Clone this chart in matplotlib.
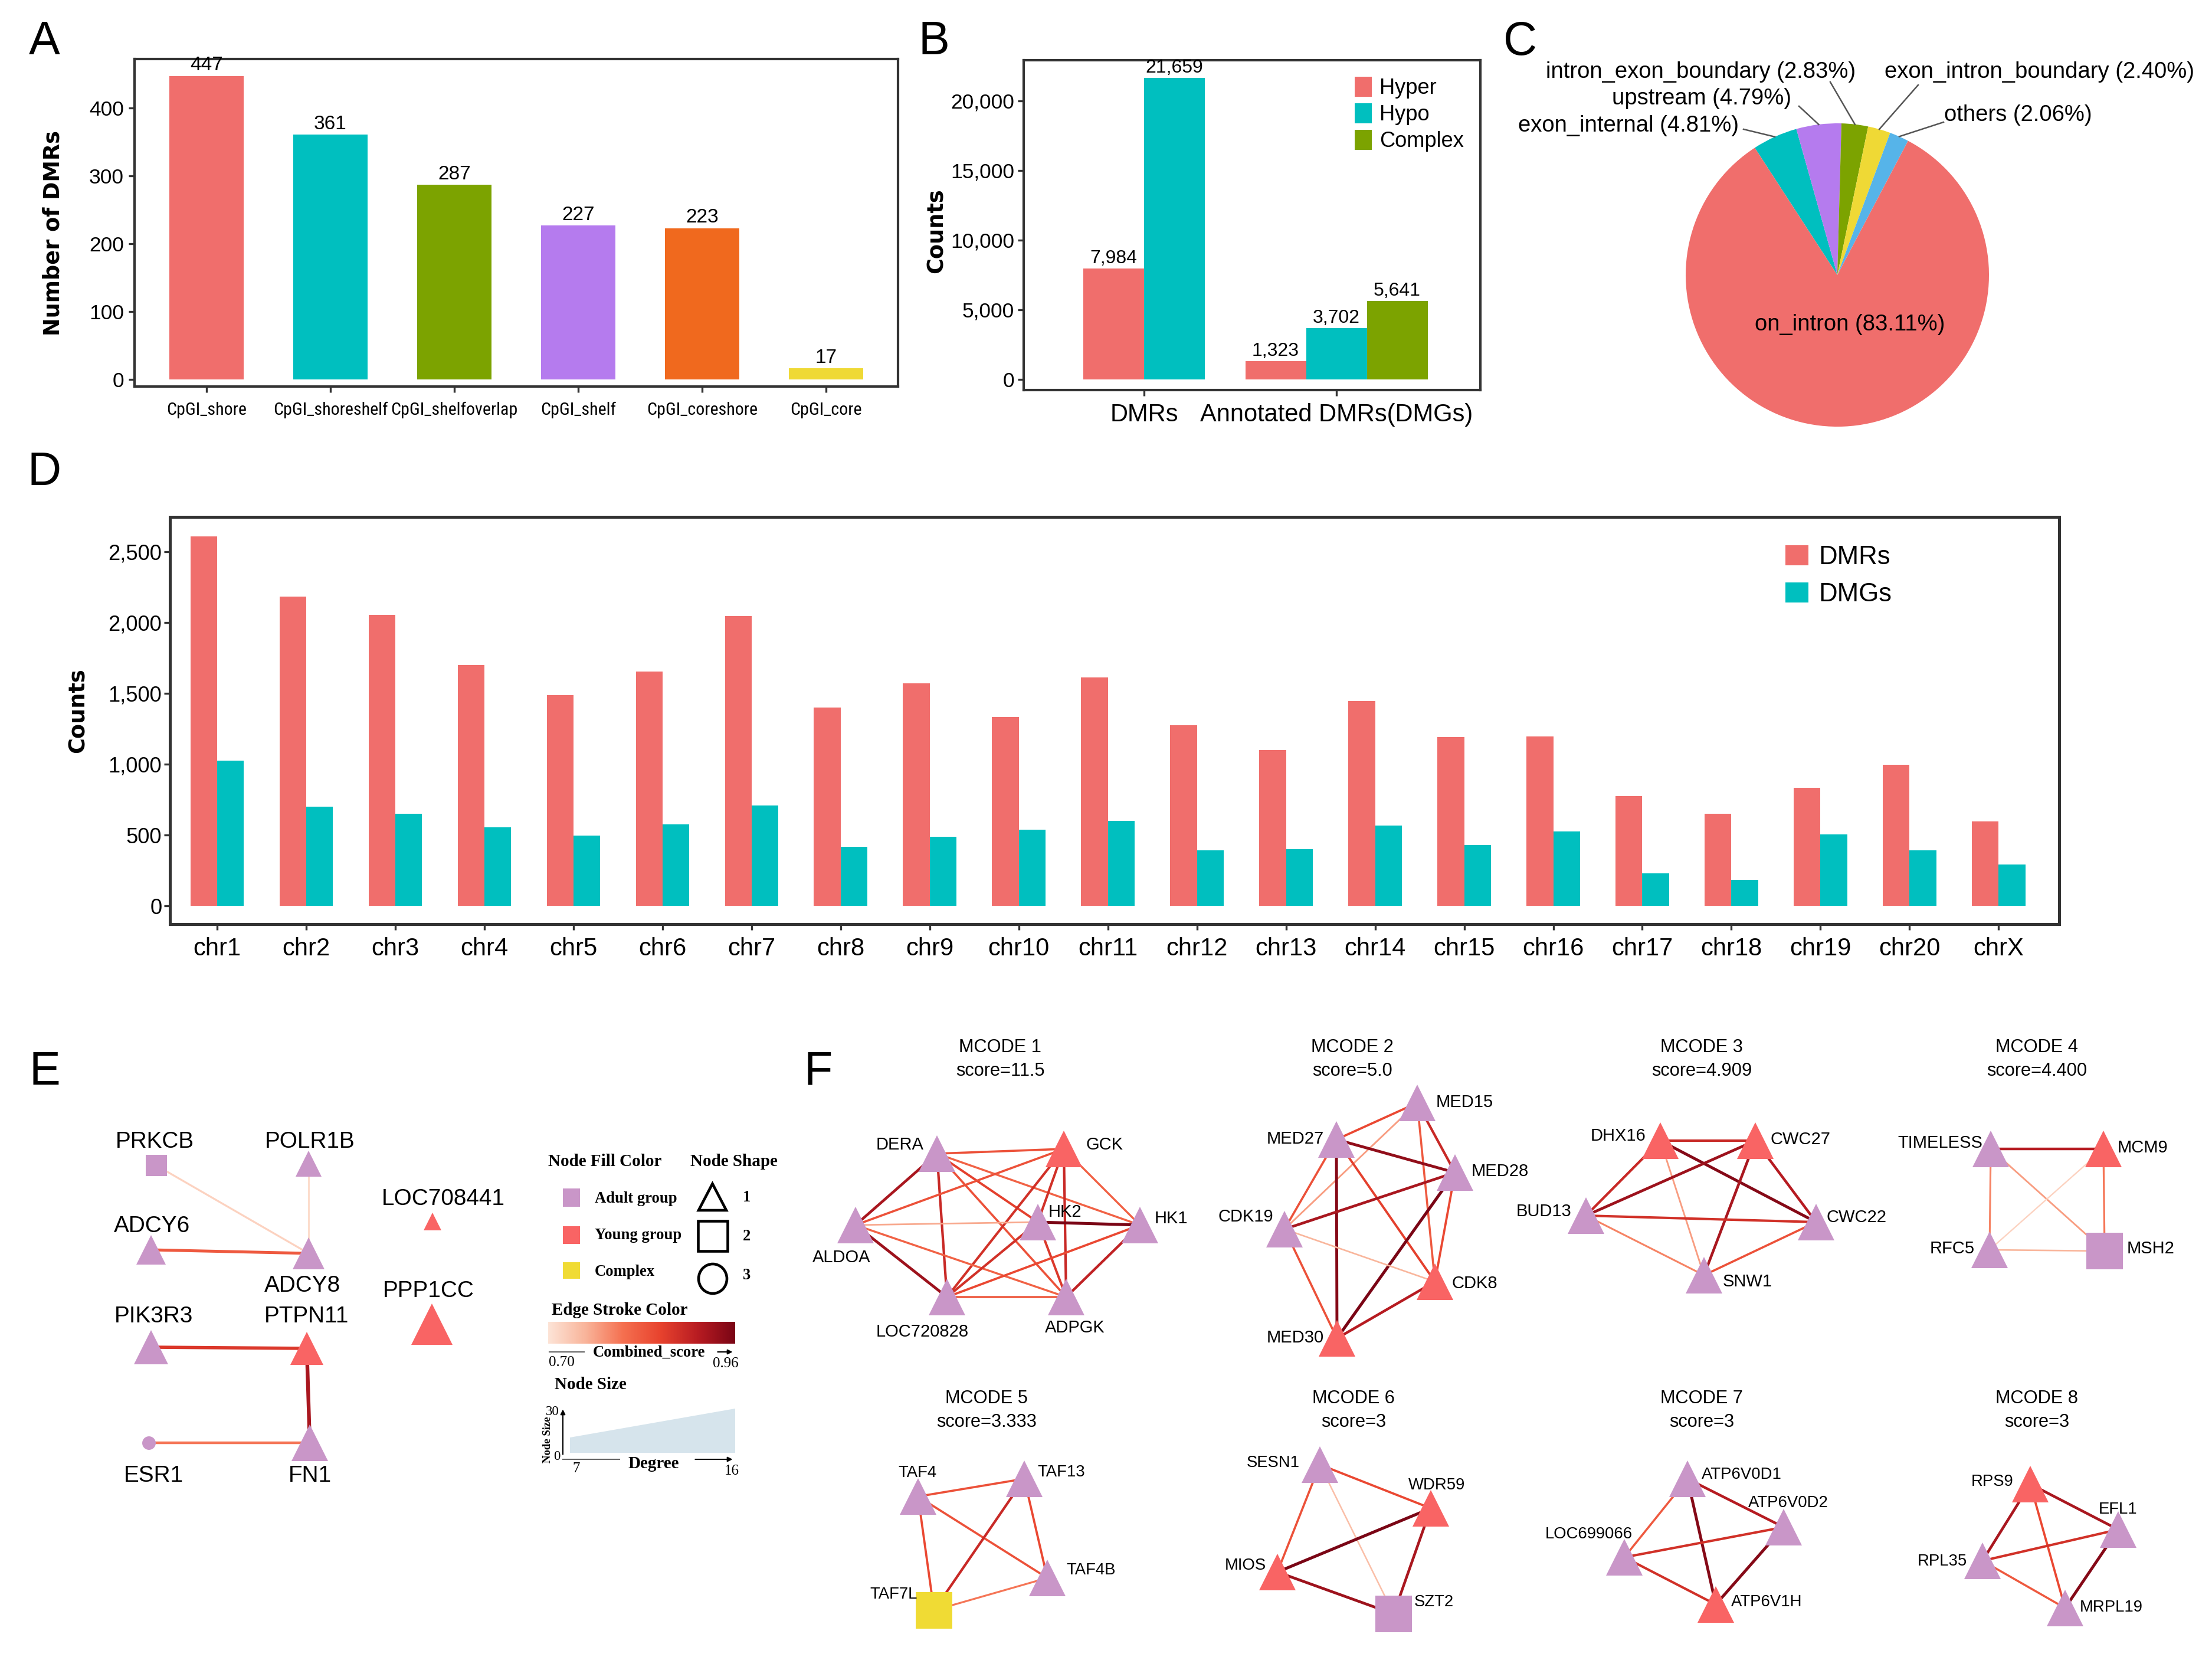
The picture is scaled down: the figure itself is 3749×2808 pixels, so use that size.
import numpy as np
import matplotlib
matplotlib.use('Agg')
import matplotlib.pyplot as plt
from matplotlib import font_manager
from matplotlib.patches import Patch, Polygon, Rectangle, Ellipse
from matplotlib.colors import LinearSegmentedColormap, Normalize
from matplotlib.ticker import FuncFormatter

W, H, DPI = 3749, 2808, 300
plt.rcParams['font.family'] = ['Liberation Sans', 'DejaVu Sans']
SERIF = ['Liberation Serif', 'DejaVu Serif']
BOLDLAB = ['DejaVu Sans']
_installed = {f.name for f in font_manager.fontManager.ttflist}
NARROW = None
for _cand in ['Liberation Sans Narrow', 'Arial Narrow', 'Roboto Condensed', 'DejaVu Sans Condensed',
              'Open Sans Condensed']:
    if _cand in _installed:
        NARROW = _cand
        break

# ---------------- data ----------------
# Panel A
cpg_categories = ['CpGI_shore', 'CpGI_shoreshelf', 'CpGI_shelfoverlap', 'CpGI_shelf', 'CpGI_coreshore', 'CpGI_core']
cpg_counts = [447, 361, 287, 227, 223, 17]

# Panel B
dmr_groups = ['DMRs', 'Annotated DMRs(DMGs)']
dmr_types = ['Hyper', 'Hypo', 'Complex']
hyper_counts = [7984, 1323]
hypo_counts = [21659, 3702]
complex_counts = [np.nan, 5641]

# Panel C
region_labels = ['exon_internal', 'upstream', 'intron_exon_boundary', 'exon_intron_boundary', 'others', 'on_intron']
region_pcts = [4.81, 4.79, 2.83, 2.40, 2.06, 83.11]

# Panel D
chromosomes = ['chr1', 'chr2', 'chr3', 'chr4', 'chr5', 'chr6', 'chr7', 'chr8', 'chr9', 'chr10', 'chr11',
               'chr12', 'chr13', 'chr14', 'chr15', 'chr16', 'chr17', 'chr18', 'chr19', 'chr20', 'chrX']
chr_dmrs = [2608, 2183, 2053, 1702, 1486, 1654, 2048, 1399, 1570, 1334, 1611,
            1274, 1101, 1445, 1190, 1197, 774, 649, 834, 995, 594]
chr_dmgs = [1024, 700, 651, 555, 498, 575, 709, 416, 488, 536, 601,
            392, 401, 565, 430, 526, 228, 183, 505, 392, 293]

# Panel E / F networks
group_names = ['Adult group', 'Young group', 'Complex']
shape_codes = ['1', '2', '3']
score_range = [0.70, 0.96]
degree_range = [7, 16]
node_size_range = [0, 30]

e_nodes = ['PRKCB', 'POLR1B', 'ADCY6', 'ADCY8', 'LOC708441', 'PPP1CC', 'PIK3R3', 'PTPN11', 'ESR1', 'FN1']
e_groups = ['Adult group', 'Adult group', 'Adult group', 'Adult group', 'Young group', 'Young group',
            'Adult group', 'Young group', 'Adult group', 'Adult group']
e_shapes = [2, 1, 1, 1, 1, 1, 1, 1, 3, 1]
e_edges = [('PRKCB', 'ADCY8', 0.72), ('POLR1B', 'ADCY8', 0.71), ('ADCY6', 'ADCY8', 0.83),
           ('PIK3R3', 'PTPN11', 0.87), ('PTPN11', 'FN1', 0.92), ('ESR1', 'FN1', 0.80)]

mcode_ids = [1, 2, 3, 4, 5, 6, 7, 8]
mcode_scores = ['11.5', '5.0', '4.909', '4.400', '3.333', '3', '3', '3']
mcode_nodes = [
    ['DERA', 'GCK', 'ALDOA', 'HK2', 'HK1', 'LOC720828', 'ADPGK'],
    ['MED15', 'MED27', 'MED28', 'CDK19', 'CDK8', 'MED30'],
    ['DHX16', 'CWC27', 'BUD13', 'CWC22', 'SNW1'],
    ['TIMELESS', 'MCM9', 'RFC5', 'MSH2'],
    ['TAF4', 'TAF13', 'TAF4B', 'TAF7L'],
    ['SESN1', 'WDR59', 'MIOS', 'SZT2'],
    ['ATP6V0D1', 'ATP6V0D2', 'LOC699066', 'ATP6V1H'],
    ['RPS9', 'EFL1', 'RPL35', 'MRPL19'],
]
A_, Y_, C_ = 'Adult group', 'Young group', 'Complex'
mcode_groups = [
    [A_, Y_, A_, A_, A_, A_, A_],
    [A_, A_, A_, A_, Y_, Y_],
    [Y_, Y_, A_, A_, A_],
    [A_, Y_, A_, A_],
    [A_, A_, A_, C_],
    [A_, Y_, Y_, A_],
    [A_, A_, A_, Y_],
    [Y_, A_, A_, A_],
]
mcode_shapes = [
    [1, 1, 1, 1, 1, 1, 1],
    [1, 1, 1, 1, 1, 1],
    [1, 1, 1, 1, 1],
    [1, 1, 1, 2],
    [1, 1, 1, 2],
    [1, 1, 1, 2],
    [1, 1, 1, 1],
    [1, 1, 1, 1],
]
mcode_edges = [
    [('DERA', 'GCK', 0.84), ('DERA', 'ALDOA', 0.92), ('DERA', 'LOC720828', 0.89), ('DERA', 'HK1', 0.82),
     ('DERA', 'ADPGK', 0.84), ('DERA', 'HK2', 0.86), ('GCK', 'ALDOA', 0.84), ('GCK', 'HK2', 0.88),
     ('GCK', 'HK1', 0.82), ('GCK', 'LOC720828', 0.88), ('GCK', 'ADPGK', 0.89), ('ALDOA', 'HK2', 0.76),
     ('ALDOA', 'LOC720828', 0.93), ('ALDOA', 'ADPGK', 0.82), ('HK2', 'HK1', 0.96), ('HK2', 'LOC720828', 0.88),
     ('HK2', 'ADPGK', 0.87), ('HK1', 'LOC720828', 0.85), ('HK1', 'ADPGK', 0.90), ('LOC720828', 'ADPGK', 0.83)],
    [('MED27', 'MED15', 0.85), ('MED15', 'CDK19', 0.77), ('MED15', 'MED28', 0.89), ('MED15', 'CDK8', 0.83),
     ('MED27', 'MED28', 0.94), ('MED27', 'CDK19', 0.84), ('MED27', 'MED30', 0.95), ('MED27', 'CDK8', 0.86),
     ('MED28', 'CDK19', 0.92), ('MED28', 'MED30', 0.96), ('MED28', 'CDK8', 0.85), ('CDK19', 'CDK8', 0.75),
     ('CDK19', 'MED30', 0.84), ('CDK8', 'MED30', 0.91)],
    [('DHX16', 'CWC27', 0.89), ('DHX16', 'BUD13', 0.89), ('DHX16', 'CWC22', 0.95), ('DHX16', 'SNW1', 0.77),
     ('CWC27', 'BUD13', 0.93), ('CWC27', 'CWC22', 0.91), ('CWC27', 'SNW1', 0.92), ('BUD13', 'CWC22', 0.88),
     ('BUD13', 'SNW1', 0.79), ('CWC22', 'SNW1', 0.84)],
    [('TIMELESS', 'MCM9', 0.91), ('TIMELESS', 'RFC5', 0.79), ('TIMELESS', 'MSH2', 0.77),
     ('MCM9', 'RFC5', 0.72), ('MCM9', 'MSH2', 0.80), ('RFC5', 'MSH2', 0.75)],
    [('TAF4', 'TAF13', 0.84), ('TAF4', 'TAF7L', 0.85), ('TAF4', 'TAF4B', 0.84),
     ('TAF13', 'TAF7L', 0.89), ('TAF13', 'TAF4B', 0.85), ('TAF7L', 'TAF4B', 0.80)],
    [('SESN1', 'WDR59', 0.85), ('SESN1', 'MIOS', 0.84), ('SESN1', 'SZT2', 0.74),
     ('WDR59', 'MIOS', 0.96), ('WDR59', 'SZT2', 0.92), ('MIOS', 'SZT2', 0.93)],
    [('ATP6V0D1', 'ATP6V0D2', 0.91), ('ATP6V0D1', 'LOC699066', 0.83), ('ATP6V0D1', 'ATP6V1H', 0.95),
     ('ATP6V0D2', 'LOC699066', 0.88), ('ATP6V0D2', 'ATP6V1H', 0.95), ('LOC699066', 'ATP6V1H', 0.88)],
    [('RPS9', 'EFL1', 0.92), ('RPS9', 'RPL35', 0.92), ('RPS9', 'MRPL19', 0.85),
     ('EFL1', 'RPL35', 0.88), ('EFL1', 'MRPL19', 0.95), ('RPL35', 'MRPL19', 0.83)],
]

# ---------------- layout (pixel positions) ----------------
node_xy = {
    'PRKCB': (265, 1975), 'POLR1B': (523, 1972), 'ADCY6': (256, 2118), 'ADCY8': (523, 2124),
    'LOC708441': (733, 2070), 'PPP1CC': (732, 2244), 'PIK3R3': (256, 2283), 'PTPN11': (520, 2285),
    'ESR1': (252, 2445), 'FN1': (525, 2445),
    'DERA': (1588, 1955), 'GCK': (1803, 1947), 'ALDOA': (1450, 2076), 'HK2': (1759, 2071),
    'HK1': (1932, 2076), 'LOC720828': (1605, 2198), 'ADPGK': (1807, 2198),
    'MED15': (2402, 1869), 'MED27': (2265, 1931), 'MED28': (2466, 1987), 'CDK19': (2177, 2083),
    'CDK8': (2432, 2172), 'MED30': (2266, 2268),
    'DHX16': (2814, 1933), 'CWC27': (2975, 1933), 'BUD13': (2688, 2060), 'CWC22': (3078, 2071),
    'SNW1': (2888, 2161),
    'TIMELESS': (3374, 1947), 'MCM9': (3565, 1947), 'RFC5': (3372, 2118), 'MSH2': (3567, 2120),
    'TAF4': (1556, 2536), 'TAF13': (1736, 2506), 'TAF4B': (1775, 2674), 'TAF7L': (1583, 2729),
    'SESN1': (2237, 2482), 'WDR59': (2425, 2556), 'MIOS': (2165, 2664), 'SZT2': (2362, 2735),
    'ATP6V0D1': (2860, 2506), 'ATP6V0D2': (3023, 2588), 'LOC699066': (2753, 2639), 'ATP6V1H': (2908, 2719),
    'RPS9': (3441, 2515), 'EFL1': (3590, 2592), 'RPL35': (3360, 2645), 'MRPL19': (3500, 2725),
}
label_xy = {
    'PRKCB': (262, 1935), 'POLR1B': (525, 1935), 'ADCY6': (258, 2078), 'ADCY8': (512, 2179),
    'LOC708441': (751, 2032), 'PPP1CC': (726, 2188), 'PIK3R3': (261, 2231), 'PTPN11': (520, 2231),
    'ESR1': (260, 2501), 'FN1': (525, 2501),
    'DERA': (1525, 1940), 'GCK': (1872, 1940), 'ALDOA': (1426, 2131), 'HK2': (1805, 2054),
    'HK1': (1985, 2065), 'LOC720828': (1563, 2257), 'ADPGK': (1822, 2250),
    'MED15': (2482, 1868), 'MED27': (2195, 1930), 'MED28': (2542, 1985), 'CDK19': (2111, 2062),
    'CDK8': (2499, 2175), 'MED30': (2195, 2267),
    'DHX16': (2743, 1925), 'CWC27': (3052, 1931), 'BUD13': (2617, 2053), 'CWC22': (3147, 2063),
    'SNW1': (2962, 2172),
    'TIMELESS': (3288, 1937), 'MCM9': (3631, 1945), 'RFC5': (3309, 2116), 'MSH2': (3645, 2116),
    'TAF4': (1555, 2496), 'TAF13': (1799, 2495), 'TAF4B': (1849, 2661), 'TAF7L': (1515, 2702),
    'SESN1': (2158, 2479), 'WDR59': (2435, 2517), 'MIOS': (2111, 2653), 'SZT2': (2430, 2715),
    'ATP6V0D1': (2952, 2499), 'ATP6V0D2': (3031, 2547), 'LOC699066': (2693, 2600), 'ATP6V1H': (2994, 2715),
    'RPS9': (3377, 2511), 'EFL1': (3590, 2558), 'RPL35': (3292, 2646), 'MRPL19': (3578, 2724),
}
node_ms = {'PRKCB': 8.5, 'POLR1B': 10.5, 'ADCY6': 12, 'ADCY8': 13, 'LOC708441': 7, 'PPP1CC': 17,
           'PIK3R3': 14, 'PTPN11': 13.5, 'ESR1': 5.5, 'FN1': 15}
default_ms = 15
mcode_title_xy = [(1695, 1775), (2292, 1775), (2884, 1775), (3452, 1775),
                  (1672, 2370), (2294, 2370), (2884, 2370), (3452, 2370)]

group_colors = {'Adult group': '#C996C8', 'Young group': '#F96464', 'Complex': '#F0DB34'}
shape_markers = {1: '^', 2: 's', 3: 'o'}
edge_cmap = LinearSegmentedColormap.from_list(
    'edge', ['#FDE4D7', '#F9B49A', '#F57050', '#E8432E', '#B81C22', '#7A0515'])
edge_norm = Normalize(score_range[0], score_range[1])

RED = '#F06E6C'
TEAL = '#00BFBF'
GREEN = '#7CA300'
PURPLE = '#B57BEE'
ORANGE = '#F0691E'
YELLOW = '#EFD935'
BLUE = '#56B4E9'
FRAME = '#333333'


def frac_rect(x0, y0, x1, y1):
    return [x0 / W, 1 - y1 / H, (x1 - x0) / W, (y1 - y0) / H]


def style_axes(ax, lw=1.0):
    for s in ax.spines.values():
        s.set_linewidth(lw)
        s.set_color(FRAME)
    ax.tick_params(axis='both', colors=FRAME, width=0.8, length=2.3)
    for lab in ax.get_xticklabels() + ax.get_yticklabels():
        lab.set_color('black')


fig = plt.figure(figsize=(W / DPI, H / DPI), dpi=DPI)
comma = FuncFormatter(lambda v, p: f'{int(v):,}')

# ---------------- Panel A ----------------
axA = fig.add_axes(frac_rect(228, 100, 1522, 655))
xa = np.arange(len(cpg_categories))
axA.bar(xa, cpg_counts, width=0.6, color=[RED, TEAL, GREEN, PURPLE, ORANGE, YELLOW])
for xi, v in zip(xa, cpg_counts):
    axA.text(xi, v + 2, str(v), ha='center', va='bottom', fontsize=8)
axA.set_xlim(-0.58, 5.58)
axA.set_ylim(-10, 472)
axA.set_yticks([0, 100, 200, 300, 400])
axA.set_xticks(xa)
if NARROW:
    axA.set_xticklabels(cpg_categories, fontsize=7.2, family=[NARROW, 'Liberation Sans'])
else:
    axA.set_xticklabels(cpg_categories, fontsize=6.5)
axA.tick_params(axis='y', labelsize=8.5, pad=2)
axA.tick_params(axis='x', pad=4)
style_axes(axA)

# ---------------- Panel B ----------------
axB = fig.add_axes(frac_rect(1735, 102, 2509, 661))
bw = 0.316
series = [hyper_counts, hypo_counts, complex_counts]
series_colors = [RED, TEAL, GREEN]
for gi in range(len(dmr_groups)):
    present = [k for k in range(len(series)) if not np.isnan(series[k][gi])]
    n = len(present)
    for j, k in enumerate(present):
        xpos = gi + 1 + (j - (n - 1) / 2) * bw
        v = series[k][gi]
        axB.bar(xpos, v, width=bw, color=series_colors[k])
        axB.text(xpos, v + 80, f'{int(v):,}', ha='center', va='bottom', fontsize=7.7)
axB.set_xlim(0.374, 2.748)
axB.set_ylim(-763, 22920)
axB.set_yticks([0, 5000, 10000, 15000, 20000])
axB.yaxis.set_major_formatter(comma)
axB.set_xticks([1, 2])
axB.set_xticklabels(dmr_groups, fontsize=10)
axB.tick_params(axis='y', labelsize=8.5, pad=1.5)
axB.tick_params(axis='x', pad=3)
style_axes(axB)
axB.legend(handles=[Patch(facecolor=c, edgecolor='none', label=t) for c, t in zip(series_colors, dmr_types)],
           loc='upper left', bbox_to_anchor=(0.725, 0.95), frameon=False, fontsize=8.7,
           handlelength=0.8, handleheight=1.05, labelspacing=0.22, handletextpad=0.35,
           borderpad=0, borderaxespad=0)

# ---------------- Panel C ----------------
cx, cy, cr = 3114, 466, 257
axC = fig.add_axes(frac_rect(cx - cr, cy - cr, cx + cr, cy + cr))
wedges, _ = axC.pie(region_pcts, colors=[TEAL, PURPLE, GREEN, YELLOW, BLUE, RED], startangle=123,
                    counterclock=False, radius=1, wedgeprops=dict(linewidth=0))
axC.set_xlim(-1, 1)
axC.set_ylim(-1, 1)
axC.axis('off')


def pie_xy(px, py):
    return ((px - cx) / cr, (cy - py) / cr)


pie_label_xy = {'exon_internal': (2760, 213), 'upstream': (2884, 167), 'intron_exon_boundary': (2883, 122),
                'exon_intron_boundary': (3456, 122), 'others': (3420, 195), 'on_intron': (3135, 550)}
pie_leader_start = {'exon_internal': (2955, 219), 'upstream': (3049, 180), 'intron_exon_boundary': (3102, 139),
                    'exon_intron_boundary': (3251, 144), 'others': (3294, 207)}
for w_, lab, pct in zip(wedges, region_labels, region_pcts):
    tx, ty = pie_xy(*pie_label_xy[lab])
    axC.text(tx, ty, f'{lab} ({pct:.2f}%)', ha='center', va='center', fontsize=9.2, clip_on=False)
    if lab in pie_leader_start:
        sx, sy = pie_xy(*pie_leader_start[lab])
        mid = np.deg2rad((w_.theta1 + w_.theta2) / 2)
        axC.plot([sx, np.cos(mid) * 1.0], [sy, np.sin(mid) * 1.0], color='#555555', lw=0.6, clip_on=False)

# ---------------- Panel D ----------------
axD = fig.add_axes(frac_rect(288, 876, 3490, 1566))
xd = np.arange(1, len(chromosomes) + 1)
dw = 0.30
axD.bar(xd - dw / 2, chr_dmrs, width=dw, color=RED, label='DMRs')
axD.bar(xd + dw / 2, chr_dmgs, width=dw, color=TEAL, label='DMGs')
axD.set_xlim(0.47, 21.68)
axD.set_ylim(-129, 2746)
axD.set_yticks([0, 500, 1000, 1500, 2000, 2500])
axD.yaxis.set_major_formatter(comma)
axD.set_xticks(xd)
axD.set_xticklabels(chromosomes, fontsize=10)
axD.tick_params(axis='y', labelsize=8.7, pad=1)
axD.tick_params(axis='x', pad=3)
style_axes(axD, lw=1.2)
axD.legend(loc='upper left', bbox_to_anchor=(0.855, 0.93), frameon=False, fontsize=10.5,
           handlelength=0.9, handleheight=0.8, labelspacing=0.5, handletextpad=0.4,
           borderpad=0, borderaxespad=0)

# ---------------- overlay for texts & networks ----------------
ax = fig.add_axes([0, 0, 1, 1])
ax.patch.set_visible(False)
ax.axis('off')

# panel letters
for letter, (px, py) in zip('ABCDEF', [(75, 72), (1583, 72), (2577, 72), (75, 802), (76, 1817), (1387, 1817)]):
    ax.text(px, py, letter, ha='center', va='center', fontsize=19)

# axis titles
ax.text(90, 395, 'Number of DMRs', rotation=90, ha='center', va='center', fontsize=8.8,
        fontweight='bold', family=BOLDLAB)
ax.text(1587, 391, 'Counts', rotation=90, ha='center', va='center', fontsize=8.8,
        fontweight='bold', family=BOLDLAB)
ax.text(132, 1204, 'Counts', rotation=90, ha='center', va='center', fontsize=8.8,
        fontweight='bold', family=BOLDLAB)


def draw_network(names, groups, shapes, edges, big_edges=False, label_fs=7.0):
    for a, b, s in edges:
        (xa_, ya_), (xb_, yb_) = node_xy[a], node_xy[b]
        lw = 0.5 + 0.7 * (s - score_range[0]) / (score_range[1] - score_range[0])
        if big_edges:
            lw *= 1.4
        ax.plot([xa_, xb_], [ya_, yb_], color=edge_cmap(edge_norm(s)), lw=lw,
                solid_capstyle='butt', zorder=2)
    for nm, g, sh in zip(names, groups, shapes):
        x, y = node_xy[nm]
        ms = node_ms.get(nm, default_ms)
        ax.plot([x], [y], marker=shape_markers[sh], ms=ms, color=group_colors[g],
                markeredgewidth=0, linestyle='none', zorder=3)
        lx, ly = label_xy[nm]
        ax.text(lx, ly, nm, ha='center', va='center', fontsize=label_fs, zorder=4)


# Panel E network
draw_network(e_nodes, e_groups, e_shapes, e_edges, big_edges=True, label_fs=9.3)

# Panel F networks
for i, mid in enumerate(mcode_ids):
    tx, ty = mcode_title_xy[i]
    ax.text(tx, ty, f'MCODE {mid}', ha='center', va='center', fontsize=7.4)
    ax.text(tx, ty + 40, f'score={mcode_scores[i]}', ha='center', va='center', fontsize=7.4)
    draw_network(mcode_nodes[i], mcode_groups[i], mcode_shapes[i], mcode_edges[i],
                 label_fs=7.0 if i < 4 else 6.6)

# Panel E legend
ax.text(1025, 1968, 'Node Fill Color', ha='center', va='center', fontsize=7, fontweight='bold', family=SERIF)
ax.text(1244, 1968, 'Node Shape', ha='center', va='center', fontsize=7, fontweight='bold', family=SERIF)
for (gname, (y0, y1), ty) in zip(group_names, [(2014, 2045), (2078, 2108), (2139, 2167)], [2031, 2093, 2155]):
    ax.add_patch(Rectangle((954, y0), 29, y1 - y0, facecolor=group_colors[gname], edgecolor='none'))
    ax.text(1008, ty, gname, ha='left', va='center', fontsize=6.4, fontweight='bold', family=SERIF)
ax.add_patch(Polygon([(1184, 2051), (1231, 2051), (1207.5, 2006)], closed=True, fill=False, lw=1.1, ec='black'))
ax.add_patch(Rectangle((1183, 2069), 50, 51, fill=False, lw=1.1, ec='black'))
ax.add_patch(Ellipse((1208, 2167), 48, 50, fill=False, lw=1.1, ec='black'))
for code, ty in zip(shape_codes, [2030, 2096, 2162]):
    ax.text(1266, ty, code, ha='center', va='center', fontsize=6.4, fontweight='bold', family=SERIF)
ax.text(1050, 2221, 'Edge Stroke Color', ha='center', va='center', fontsize=7, fontweight='bold', family=SERIF)
ax.imshow(np.linspace(0, 1, 256)[None, :], cmap=edge_cmap, extent=(929, 1246, 2277, 2240),
          aspect='auto', zorder=2)
ax.plot([931, 990], [2291, 2291], color='#666666', lw=0.5)
ax.annotate('', xy=(1250, 2291), xytext=(1208, 2291),
            arrowprops=dict(arrowstyle='-|>', lw=0.5, color='black', mutation_scale=4))
ax.text(952, 2309, f'{score_range[0]:.2f}', ha='center', va='center', fontsize=6, family=SERIF)
ax.text(1100, 2292, 'Combined_score', ha='center', va='center', fontsize=6.4, fontweight='bold', family=SERIF)
ax.text(1230, 2311, f'{score_range[1]:.2f}', ha='center', va='center', fontsize=6, family=SERIF)
ax.text(1001, 2346, 'Node Size', ha='center', va='center', fontsize=7, fontweight='bold', family=SERIF)
ax.add_patch(Polygon([(966, 2462), (966, 2436), (1246, 2387), (1246, 2462)], closed=True,
                     facecolor='#D6E4EC', edgecolor='none'))
ax.annotate('', xy=(954, 2380), xytext=(954, 2473),
            arrowprops=dict(arrowstyle='-|>', lw=0.5, color='black', mutation_scale=4))
ax.plot([954, 1050], [2473, 2473], color='#666666', lw=0.5)
ax.annotate('', xy=(1250, 2473), xytext=(1170, 2473),
            arrowprops=dict(arrowstyle='-|>', lw=0.5, color='black', mutation_scale=4))
ax.text(936, 2392, str(node_size_range[1]), ha='center', va='center', fontsize=5.5, family=SERIF)
ax.text(944, 2468, str(node_size_range[0]), ha='center', va='center', fontsize=5.5, family=SERIF)
ax.text(929, 2440, 'Node Size', rotation=90, ha='center', va='center', fontsize=4.5, fontweight='bold', family=SERIF)
ax.text(977, 2489, str(degree_range[0]), ha='center', va='center', fontsize=6, family=SERIF)
ax.text(1108, 2480, 'Degree', ha='center', va='center', fontsize=7, fontweight='bold', family=SERIF)
ax.text(1240, 2493, str(degree_range[1]), ha='center', va='center', fontsize=6, family=SERIF)

ax.set_xlim(0, W)
ax.set_ylim(H, 0)

fig.savefig('out.png', dpi=DPI, facecolor='white')
